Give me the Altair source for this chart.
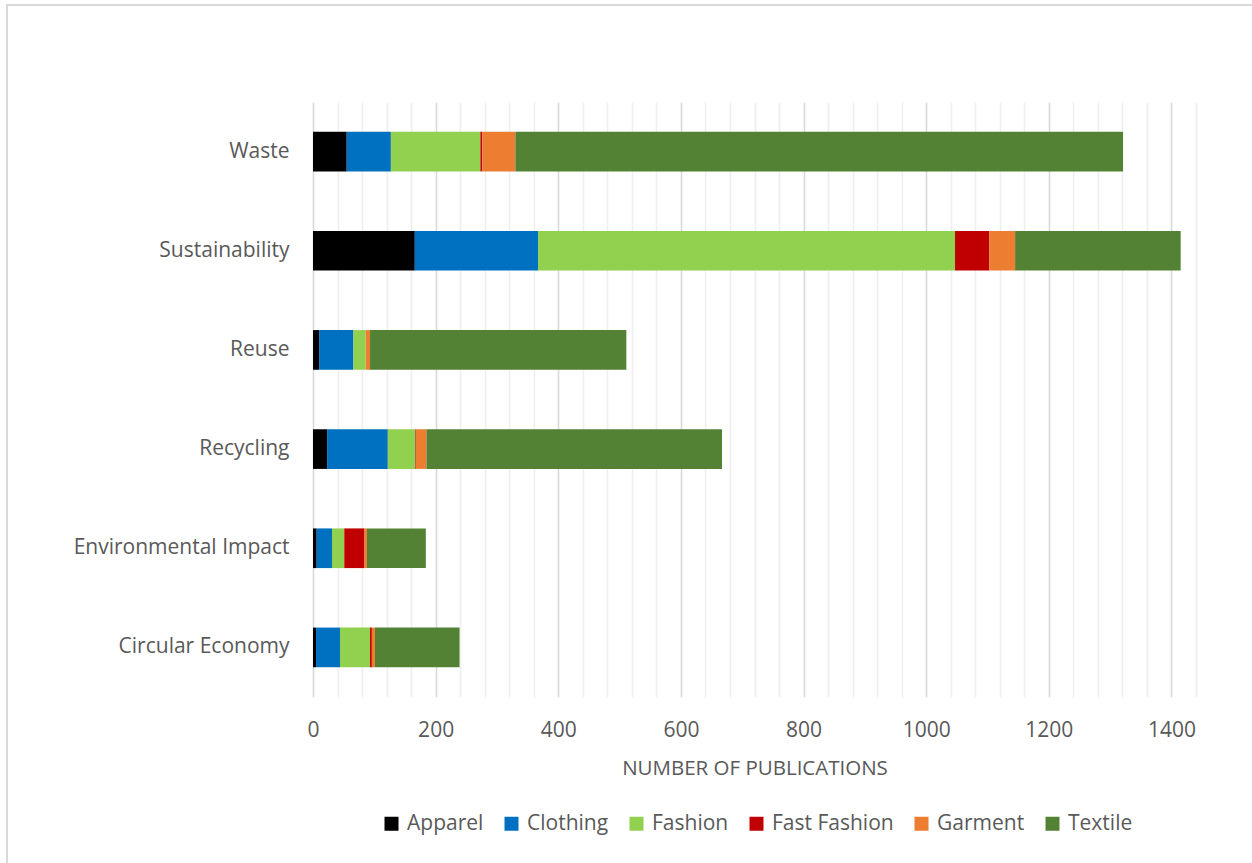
import altair as alt
import pandas as pd

categories = ["Waste", "Sustainability", "Reuse", "Recycling",
              "Environmental Impact", "Circular Economy"]
series = ["Apparel", "Clothing", "Fashion", "Fast Fashion", "Garment", "Textile"]
colors = ["#000000", "#0070C0", "#92D050", "#C00000", "#ED7D31", "#548235"]

apparel = [55, 166, 10, 23, 6, 5]
clothing = [72, 201, 56, 99, 25, 39]
fashion = [146, 680, 20, 45, 20, 49]
fast_fashion = [3, 56, 0, 1, 33, 3]
garment = [54, 42, 7, 17, 4, 5]
textile = [991, 270, 418, 482, 96, 138]

tick_values = list(range(0, 1441, 40))

values = [apparel, clothing, fashion, fast_fashion, garment, textile]
rows = []
for si, (name, vals) in enumerate(zip(series, values)):
    for cat, v in zip(categories, vals):
        rows.append({"Category": cat, "Series": name, "Count": v, "order": si})
df = pd.DataFrame(rows)

FONT = "Open Sans"
GREY = "#595959"

W, H = 883, 595

bars = alt.Chart(df).mark_bar().encode(
    y=alt.Y("Category:N", sort=categories,
            scale=alt.Scale(paddingInner=0.6, paddingOuter=0.3),
            axis=alt.Axis(title=None, domain=False, ticks=False, grid=False,
                          labelPadding=24, labelFontSize=21, labelColor=GREY,
                          labelFont=FONT, labelLimit=0)),
    x=alt.X("Count:Q", stack="zero",
            scale=alt.Scale(domain=[0, 1440], nice=False),
            axis=alt.Axis(title="NUMBER OF PUBLICATIONS", values=tick_values,
                          format="d",
                          labelExpr="datum.value % 200 === 0 ? datum.label : ''",
                          labelOverlap=False, labelFlush=False, labelBound=False,
                          domain=False, ticks=False, labelPadding=22,
                          labelFontSize=21, labelColor=GREY, labelFont=FONT,
                          titleFontSize=20.5, titleColor=GREY, titleFont=FONT,
                          titleFontWeight="normal", titlePadding=18,
                          gridColor=alt.condition("datum.value % 200 === 0",
                                                  alt.value("#d9d9d9"),
                                                  alt.value("#efefef")),
                          gridWidth=1.6)),
    color=alt.Color("Series:N",
                    scale=alt.Scale(domain=series, range=colors),
                    legend=alt.Legend(title=None, orient="none", direction="horizontal",
                                      legendX=68, legendY=711,
                                      symbolType="square", symbolSize=196,
                                      symbolStrokeWidth=0, labelFontSize=21,
                                      labelColor=GREY, labelFont=FONT,
                                      labelOffset=5, columnPadding=17)),
    order=alt.Order("order:Q"),
)

frame = alt.Chart(pd.DataFrame({"a": [0]})).mark_rect(
    fill=None, stroke="#d9d9d9", strokeWidth=2
).encode(
    x=alt.value(-306), x2=alt.value(W + 100),
    y=alt.value(-97), y2=alt.value(H + 300),
)

chart = alt.layer(frame, bars).properties(
    width=W, height=H,
    background="white",
    autosize=alt.AutoSizeParams(type="none"),
    padding={"left": 313, "top": 102, "right": 56, "bottom": 166},
).configure_view(stroke=None)

chart.save("out.html", embed_options={"renderer": "svg", "actions": False})
